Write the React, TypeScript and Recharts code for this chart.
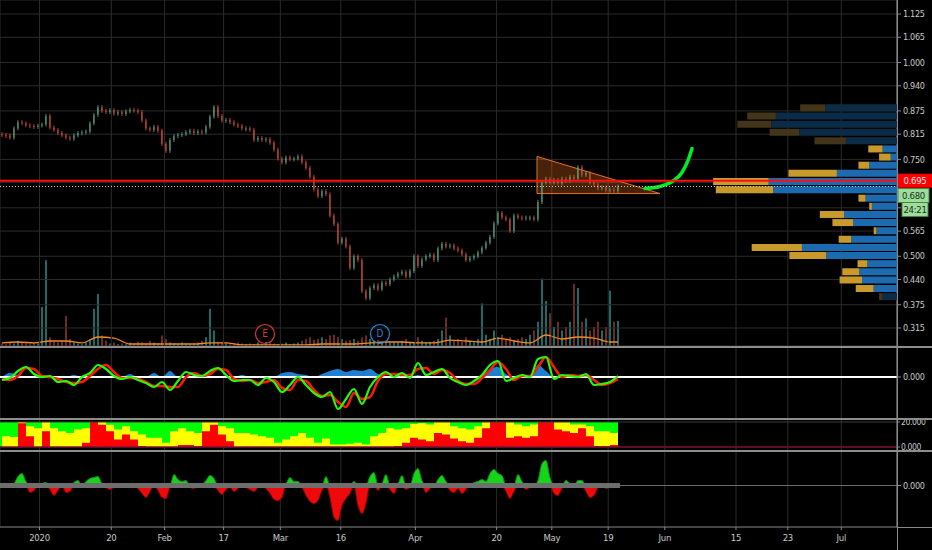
import React from "react";
import {
  ComposedChart,
  BarChart,
  Bar,
  Line,
  Area,
  XAxis,
  YAxis,
  CartesianGrid,
  ReferenceLine,
  ReferenceArea,
  ReferenceDot,
  Cell,
} from "recharts";

const FONT = "'Liberation Sans Narrow', 'DejaVu Sans Condensed', 'Liberation Sans', sans-serif";
const AXIS_TXT = "#c9c9c9";
const AXIS_LINE = "#8a8a8a";
const GRID = "#2b2b2b";
const UP = "#62b08f";
const DOWN = "#e2553f";

// x axis is counted in bar slots (4px each on screen)
const X_MAX = 224.25;
const P_MIN = 0.2685;
const P_MAX = 1.1612;

const dateTicks = [9.875, 27.83, 41.15, 55.9, 70.08, 85.2, 103.83, 124.15, 137.95, 152.05, 166.2, 184, 196.95, 210.33];
const dateLabels = ["2020", "20", "Feb", "17", "Mar", "16", "Apr", "20", "May", "19", "Jun", "15", "23", "Jul"];
const priceTicks = [1.125, 1.065, 1.0, 0.94, 0.875, 0.815, 0.75, 0.69, 0.625, 0.565, 0.5, 0.44, 0.375, 0.315];
// these two sit under the price tags
const hiddenPriceTicks = [0.69, 0.625];

const closes = [
  0.813, 0.812, 0.806, 0.83, 0.846, 0.843, 0.838, 0.836, 0.834, 0.837,
  0.84, 0.862, 0.832, 0.826, 0.818, 0.812, 0.806, 0.803, 0.812, 0.818,
  0.82, 0.822, 0.843, 0.865, 0.885, 0.875, 0.872, 0.877, 0.868, 0.872,
  0.867, 0.874, 0.878, 0.876, 0.872, 0.85, 0.83, 0.826, 0.834, 0.824,
  0.79, 0.772, 0.8, 0.81, 0.813, 0.815, 0.82, 0.824, 0.818, 0.822,
  0.82, 0.834, 0.86, 0.885, 0.862, 0.85, 0.852, 0.846, 0.84, 0.836,
  0.83, 0.83, 0.826, 0.8, 0.805, 0.8, 0.802, 0.793, 0.775, 0.752,
  0.742, 0.755, 0.75, 0.752, 0.758, 0.742, 0.728, 0.705, 0.672, 0.655,
  0.668, 0.66, 0.605, 0.583, 0.535, 0.545, 0.525, 0.47, 0.5, 0.49,
  0.41, 0.392, 0.418, 0.425, 0.415, 0.432, 0.428, 0.44, 0.448, 0.455,
  0.46, 0.448, 0.462, 0.5, 0.475, 0.492, 0.5, 0.504, 0.49, 0.52,
  0.532, 0.525, 0.528, 0.52, 0.515, 0.505, 0.49, 0.495, 0.5, 0.51,
  0.522, 0.535, 0.55, 0.585, 0.612, 0.6, 0.595, 0.565, 0.605, 0.6,
  0.598, 0.6, 0.6, 0.595, 0.64, 0.69, 0.7, 0.69, 0.697, 0.688,
  0.7, 0.695, 0.705, 0.7, 0.73, 0.71, 0.715, 0.69, 0.685, 0.675,
  0.678, 0.67, 0.672, 0.668, 0.68,
];
const firstOpen = 0.815;

// volume, millions
const volumes = [
  0.03, 0.02, 0.04, 0.03, 0.06, 0.04, 0.03, 0.02, 0.04, 0.03,
  0.45, 0.99, 0.1, 0.05, 0.04, 0.06, 0.35, 0.08, 0.04, 0.03,
  0.02, 0.04, 0.08, 0.43, 0.6, 0.12, 0.06, 0.03, 0.04, 0.02,
  0.03, 0.02, 0.04, 0.03, 0.05, 0.04, 0.03, 0.06, 0.04, 0.03,
  0.12, 0.08, 0.04, 0.03, 0.02, 0.04, 0.03, 0.02, 0.03, 0.04,
  0.06, 0.1, 0.43, 0.18, 0.05, 0.04, 0.03, 0.02, 0.03, 0.04,
  0.03, 0.02, 0.03, 0.02, 0.04, 0.03, 0.05, 0.04, 0.03, 0.02,
  0.03, 0.04, 0.02, 0.03, 0.04, 0.06, 0.08, 0.1, 0.07, 0.08,
  0.1, 0.08, 0.12, 0.13, 0.1, 0.08, 0.06, 0.07, 0.08, 0.06,
  0.1, 0.12, 0.08, 0.06, 0.07, 0.05, 0.06, 0.04, 0.05, 0.04,
  0.06, 0.08, 0.05, 0.04, 0.1, 0.06, 0.04, 0.05, 0.06, 0.08,
  0.18, 0.33, 0.12, 0.06, 0.08, 0.05, 0.1, 0.06, 0.04, 0.08,
  0.49, 0.13, 0.08, 0.18, 0.1, 0.13, 0.08, 0.1, 0.06, 0.08,
  0.1, 0.08, 0.13, 0.18, 0.28, 0.78, 0.52, 0.38, 0.22, 0.28,
  0.18, 0.22, 0.28, 0.72, 0.67, 0.28, 0.32, 0.18, 0.22, 0.28,
  0.18, 0.22, 0.64, 0.28, 0.29,
];
// volume average, one value every 4 bars
const volAvg = [
  0.035, 0.046, 0.035, 0.058, 0.058, 0.035, 0.104, 0.092, 0.023, 0.023,
  0.023, 0.023, 0.023, 0.035, 0.035, 0.012, 0.012, 0.012, 0.012, 0.012,
  0.023, 0.023, 0.023, 0.035, 0.046, 0.046, 0.035, 0.035, 0.069, 0.058,
  0.046, 0.092, 0.058, 0.035, 0.127, 0.081, 0.104, 0.092, 0.046, 0.046,
];

// visible range volume profile
const vpPrices = [0.884, 0.863, 0.842, 0.821, 0.799, 0.778, 0.757, 0.736, 0.715, 0.694, 0.673, 0.651, 0.63, 0.609, 0.588, 0.567, 0.545, 0.524, 0.503, 0.482, 0.461, 0.44, 0.418, 0.397];
const vpUp = [8.0, 13.5, 14.0, 10.9, 5.7, 1.6, 0.7, 3.1, 6.7, 14.3, 13.8, 3.5, 2.8, 5.9, 4.9, 2.3, 5.1, 10.6, 7.9, 3.3, 4.2, 3.9, 2.6, 1.6];
const vpDown = [2.8, 3.2, 3.8, 3.3, 3.5, 1.6, 1.3, 1.2, 5.4, 6.2, 6.4, 0.8, 0.3, 2.7, 2.3, 0.3, 1.4, 5.6, 4.1, 1.1, 1.9, 2.5, 2.0, 0.4];
const vpInValueArea = [false, false, false, false, false, true, true, true, true, true, true, true, true, true, true, true, true, true, true, true, true, true, true, false];

// drawings
const triangle = [
  { x: 134.25, tri: [0.6618, 0.7575] },
  { x: 165, tri: [0.6618, 0.6618] },
];
const arrow = [
  { x: 161.25, p: 0.6747 },
  { x: 165, p: 0.6799 },
  { x: 168, p: 0.6928 },
  { x: 170.5, p: 0.7161 },
  { x: 172, p: 0.7472 },
  { x: 173, p: 0.7782 },
];
const events = [
  { x: 66.25, letter: "E", color: "#d03a2c" },
  { x: 95, letter: "D", color: "#2a86d8" },
];

// oscillator panel (x 1e-3), one value every 2 bars
const oscFast = [
  -3, -1, 6, 10, 3, 0, 1, -5, -4, -8, 0, 4, 12, 8, 1, -2, 0, -3, -6, -10,
  -5, -13, -4, 5, 2, 1, 6, 9, 2, -4, -3, -3, -8, -1, -5, -15, -8, 0, -8, -16,
  -20, -15, -32, -22, -12, -27, -10, 0, 5, 0, 4, -1, 14, 2, 5, 8, -1, -5, -8, -4,
  2, 12, 16, -4, -1, 2, 0, 18, 20, -2, 2, 1, 0, 3, -8, -7, -5, 1,
];
const oscSlow = [
  -2, -3, 1, 9, 8, 1, 0, -2, -5, -6, -5, 1, 8, 12, 5, -1, -1, -2, -5, -9,
  -9, -10, -10, 0, 4, 1, 3, 8, 7, -2, -4, -3, -6, -5, -3, -11, -13, -3, -4, -13,
  -19, -18, -25, -30, -16, -22, -20, -4, 3, 3, 2, 2, 8, 9, 3, 7, 4, -4, -7, -7,
  -1, 7, 15, 8, -3, 1, 1, 10, 20, 10, 0, 2, 1, 2, -3, -8, -6, -2,
];
const oscHist = [
  0, 4, 2, 0, 0, 0, 0, 0, 0, 2, 0, 0, 0, 0, 0, 0, 3, 0, 0, 4,
  0, 6, 0, 0, 0, 0, 0, 0, 0, 0, 2, 0, 0, 0, 0, 4, 5, 3, 2, 0,
  3, 6, 8, 5, 7, 6, 8, 3, 0, 0, 0, 0, 2, 0, 0, 0, 0, 0, 0, 0,
  0, 8, 10, 3, 0, 0, 0, 12, 6, 0, 0, 0, 0, 0, 0, 0, 0, 0,
];

// trend strength panel (0-20), one value every 2 bars
const trendYellow = [
  8.7, 8, 20, 16.6, 15, 20, 15, 12.6, 11.3, 14, 15, 20, 20, 17.9, 14, 16.6, 12.6, 10, 7.4, 7.4,
  3.4, 12.6, 15, 12.6, 11.3, 20, 20, 16.6, 15, 11.3, 11.3, 10, 8.7, 7.4, 3.4, 6, 8.7, 11.3, 7.4,
  3.4, 6.8, 2, 2, 2.6, 3.4, 2, 8.7, 11.3, 15, 14, 15, 18.4, 19, 18, 20, 20, 16.6, 15, 14,
  16.6, 20, 20, 20, 20, 18, 16.6, 18, 20, 20, 20, 20, 18, 18, 16.6, 12.6, 12.6, 11.3, 11.3,
];
const trendRed = [
  0, 0, 19, 8.7, 0, 12.6, 0, 0, 0, 0, 3.4, 20, 17.9, 12.6, 6, 10, 6, 0.8, 0, 0,
  0, 0, 1.6, 1.6, 0.8, 12.6, 17.9, 10, 4.7, 0, 0, 0, 0, 0, 0, 0, 0, 0, 0,
  0, 0, 0, 0, 0, 0, 0, 0, 0, 0, 0.8, 3.4, 7.4, 6, 4.7, 11.3, 10, 6.8, 4.7, 3.4,
  7.4, 15, 20, 20, 7.4, 8.7, 7.4, 8.7, 20, 20, 14, 12.6, 11.3, 15, 8.7, 0.8, 0.8, 1.6, 1.6,
];

// momentum histogram (x 1e-3), one value per bar
const momentum = [
  0, 0, 0, 2, 9, 12, 4, -7, -5, 0,
  2, 3, -4, -10, -5, 0, -7, -6, 3, 5,
  0, 4, 7, 8, 9, 2, -2, -4, -2, 0,
  2, 2, 0, 0, -3, -8, -12, -6, 0, -5,
  -12, -13, -2, 11, 6, 4, 5, -2, -3, 0,
  1, 5, 10, 7, -5, -9, -4, -2, -6, -3,
  0, -2, -4, -6, -2, 0, -3, -8, -14, -15,
  -12, 2, 8, 4, 4, -2, -10, -16, -18, -15,
  -5, 9, -12, -32, -35, -20, -13, -8, 4, -20,
  -28, -18, 9, 13, -5, 2, 11, -4, -8, 2,
  10, -4, -2, 12, 17, 5, -7, -3, 0, 6,
  10, 4, -5, -7, -3, -8, -4, 0, 3, 4,
  6, 4, 12, 16, 12, 10, -6, -13, -6, 11,
  4, -4, -2, 0, 5, 22, 25, 8, -8, -10,
  -3, 5, 2, 0, 5, 5, -6, -12, -10, -2,
  0, -3, -2, 0, 1,
];

const candles = closes.map((c, i) => ({
  x: i + 0.5,
  open: i === 0 ? firstOpen : closes[i - 1],
  close: c,
  vol: volumes[i],
}));
const volAvgData = volAvg.map((v, k) => ({ x: Math.min(4 * k, 154) + 0.5, ma: v }));
const profile = vpPrices.map((p, i) => ({ price: p, up: vpUp[i], down: vpDown[i], va: vpInValueArea[i] }));
const oscData = oscFast.map((v, k) => ({ x: 2 * k + 0.5, fast: v, slow: oscSlow[k], hist: oscHist[k] }));
const trendData = trendYellow.map((v, k) => ({ x: 2 * k + 0.5, yellow: v, red: trendRed[k] }));
const momData = momentum.map((v, i) => ({ x: i + 0.5, m: v }));

const tickStyle = { fill: AXIS_TXT, fontSize: 9, fontFamily: FONT, letterSpacing: -0.3 };

function Candle(props: any) {
  const { x, y, width, height, payload } = props;
  if (x == null || y == null) return null;
  const color = payload.close >= payload.open ? UP : DOWN;
  const h = Math.max(height, 1);
  const cx = x + width / 2;
  return (
    <g>
      <line x1={cx} x2={cx} y1={y - 2} y2={y + h + 2} stroke={color} strokeWidth={0.8} />
      <rect x={x} y={y} width={width} height={h} fill={color} />
    </g>
  );
}

function Tag({ x, y, w, text, bg, fg, border }: any) {
  return (
    <g>
      <rect x={x} y={y - 7} width={w} height={14} fill={bg} stroke={border || "none"} />
      <text x={x + w / 2} y={y + 3.5} textAnchor="middle" fill={fg} fontSize={9.5} fontFamily={FONT} letterSpacing={-0.3}>
        {text}
      </text>
    </g>
  );
}

function LastPriceTag(props: any) {
  const vb = props.viewBox;
  if (!vb) return null;
  const right = vb.x + vb.width;
  return <Tag x={right + 1} y={vb.y} w={34} text="0.695" bg="#ff0000" fg="#ffe6e6" />;
}

function ClosePriceTag(props: any) {
  const vb = props.viewBox;
  if (!vb) return null;
  const right = vb.x + vb.width;
  return (
    <g>
      <Tag x={right + 1} y={vb.y + 9} w={31} text="0.680" bg="#9fdc9c" fg="#123312" border="#3f8a3f" />
      <Tag x={right + 5} y={vb.y + 23} w={26} text="24:21" bg="#9fdc9c" fg="#123312" border="#3f8a3f" />
    </g>
  );
}

function eventShape(letter: string, color: string) {
  return (p: any) => (
    <g>
      <circle cx={p.cx} cy={p.cy} r={9.5} fill="none" stroke={color} strokeWidth={1.2} />
      <text x={p.cx} y={p.cy + 3.5} textAnchor="middle" fill={color} fontSize={10} fontFamily={FONT}>
        {letter}
      </text>
    </g>
  );
}

const sep = (top: number): React.CSSProperties => ({
  position: "absolute",
  left: 0,
  top,
  width: 932,
  height: 2,
  background: "#8d8d8d",
});

export default function App() {
  return (
    <div style={{ position: "absolute", left: 0, top: 0, width: 932, height: 550, background: "#000", overflow: "hidden" }}>
      {/* volume layer */}
      <div style={{ position: "absolute", left: 0, top: 0 }}>
        <ComposedChart width={932} height={346} data={candles} margin={{ top: 0, right: 35, bottom: 0, left: 0 }}>
          <XAxis dataKey="x" type="number" domain={[0, X_MAX]} hide />
          <YAxis domain={[0, 4]} hide />
          <Bar dataKey="vol" barSize={2} isAnimationActive={false}>
            {candles.map((c, i) => (
              <Cell key={i} fill={c.close >= c.open ? "#1d6a66" : "#6d2a26"} />
            ))}
          </Bar>
          <Line data={volAvgData} dataKey="ma" type="monotone" stroke="#f08a24" strokeWidth={1.3} dot={false} isAnimationActive={false} />
        </ComposedChart>
      </div>

      {/* price layer */}
      <div style={{ position: "absolute", left: 0, top: 0 }}>
        <ComposedChart width={932} height={346} data={candles} margin={{ top: 0, right: 0, bottom: 0, left: 0 }}>
          <CartesianGrid stroke={GRID} />
          <XAxis dataKey="x" type="number" domain={[0, X_MAX]} ticks={dateTicks} hide />
          <YAxis
            orientation="right"
            width={35}
            type="number"
            domain={[P_MIN, P_MAX]}
            ticks={priceTicks}
            interval={0}
            tickFormatter={(v: number) => (hiddenPriceTicks.includes(v) ? "" : v.toFixed(3))}
            tick={tickStyle}
            tickSize={4}
            tickLine={{ stroke: AXIS_LINE }}
            axisLine={{ stroke: AXIS_LINE }}
          />
          <Area
            data={triangle}
            dataKey="tri"
            type="linear"
            stroke="#e8701e"
            strokeWidth={1}
            fill="#ff7a20"
            fillOpacity={0.28}
            isAnimationActive={false}
          />
          <ReferenceLine
            segment={[
              { x: 134.25, y: 0.6618 },
              { x: 134.25, y: 0.7575 },
            ]}
            stroke="#e8701e"
          />
          <Bar dataKey={(d: any) => [Math.min(d.open, d.close), Math.max(d.open, d.close)]} barSize={2} shape={Candle} isAnimationActive={false} />
          <Line
            data={arrow}
            dataKey="p"
            type="monotone"
            stroke="#00ee22"
            strokeWidth={3.5}
            strokeLinecap="round"
            dot={false}
            isAnimationActive={false}
          />
          {events.map((e) => (
            <ReferenceDot key={e.letter} x={e.x} y={0.2995} r={9} shape={eventShape(e.letter, e.color)} />
          ))}
        </ComposedChart>
      </div>

      {/* volume profile + price lines */}
      <div style={{ position: "absolute", left: 0, top: 0 }}>
        <BarChart layout="vertical" width={932} height={346} data={profile} margin={{ top: 0, right: 35, bottom: 0, left: 0 }}>
          <XAxis type="number" domain={[0, 100]} reversed hide />
          <YAxis type="number" dataKey="price" domain={[P_MIN, P_MAX]} reversed hide />
          <Bar dataKey="up" stackId="vp" barSize={7} isAnimationActive={false}>
            {profile.map((r, i) => (
              <Cell key={i} fill={r.va ? "#1c6bb0" : "#0c2b47"} />
            ))}
          </Bar>
          <Bar dataKey="down" stackId="vp" barSize={7} isAnimationActive={false}>
            {profile.map((r, i) => (
              <Cell key={i} fill={r.va ? "#c89a2c" : "#43351a"} />
            ))}
          </Bar>
          <ReferenceLine y={0.68} stroke="#c8c8c8" strokeDasharray="1 2" label={<ClosePriceTag />} />
          <ReferenceLine y={0.695} stroke="#ff1010" strokeWidth={2} label={<LastPriceTag />} />
        </BarChart>
      </div>

      {/* oscillator panel */}
      <div style={{ position: "absolute", left: 0, top: 347 }}>
        <ComposedChart width={932} height={71} data={oscData} margin={{ top: 0, right: 0, bottom: 0, left: 0 }}>
          <CartesianGrid stroke={GRID} horizontal={false} />
          <XAxis dataKey="x" type="number" domain={[0, X_MAX]} ticks={dateTicks} hide />
          <YAxis
            orientation="right"
            width={35}
            type="number"
            domain={[-41, 30]}
            ticks={[0]}
            tickFormatter={() => "0.000"}
            tick={tickStyle}
            tickSize={4}
            tickLine={{ stroke: AXIS_LINE }}
            axisLine={{ stroke: AXIS_LINE }}
          />
          <Area dataKey="hist" type="monotone" stroke="none" fill="#1f7fd0" fillOpacity={1} baseValue={0} isAnimationActive={false} />
          <ReferenceLine y={0} stroke="#ffffff" strokeWidth={2} />
          <Line dataKey="slow" type="monotone" stroke="#ff1a00" strokeWidth={2.6} dot={false} isAnimationActive={false} />
          <Line dataKey="fast" type="monotone" stroke="#22ff00" strokeWidth={2.2} dot={false} isAnimationActive={false} />
        </ComposedChart>
      </div>

      {/* trend strength panel (plot area 419-450, extra room for its labels) */}
      <div style={{ position: "absolute", left: 0, top: 413 }}>
        <ComposedChart width={932} height={43} data={trendData} margin={{ top: 6, right: 0, bottom: 6, left: 0 }}>
          <CartesianGrid stroke={GRID} horizontal={false} />
          <XAxis dataKey="x" type="number" domain={[0, X_MAX]} ticks={dateTicks} hide />
          <YAxis
            orientation="right"
            width={35}
            type="number"
            domain={[-2.4, 22.4]}
            ticks={[0, 20]}
            interval={0}
            tickFormatter={(v: number) => v.toFixed(3)}
            tick={{ ...tickStyle, fontSize: 8.5, letterSpacing: -0.4 }}
            tickSize={3}
            tickMargin={1}
            tickLine={{ stroke: AXIS_LINE }}
            axisLine={{ stroke: AXIS_LINE }}
          />
          <ReferenceLine y={20} stroke="#3a3a3a" />
          <ReferenceArea x1={0} x2={154.5} y1={0} y2={20} fill="#00ff00" fillOpacity={1} stroke="none" />
          <Area dataKey="yellow" type="stepAfter" stroke="none" fill="#ffff00" fillOpacity={1} baseValue={0} isAnimationActive={false} />
          <Area dataKey="red" type="stepAfter" stroke="none" fill="#ff0000" fillOpacity={1} baseValue={0} isAnimationActive={false} />
          <ReferenceLine y={0} stroke="#7a1238" strokeWidth={1.5} />
        </ComposedChart>
      </div>

      {/* momentum panel + time axis */}
      <div style={{ position: "absolute", left: 0, top: 451 }}>
        <ComposedChart width={932} height={99} data={momData} margin={{ top: 0, right: 0, bottom: 0, left: 0 }}>
          <CartesianGrid stroke={GRID} horizontal={false} />
          <XAxis
            dataKey="x"
            type="number"
            domain={[0, X_MAX]}
            ticks={dateTicks}
            interval={0}
            tickFormatter={(_v: number, i: number) => dateLabels[i]}
            tick={{ ...tickStyle, fontSize: 9.5 }}
            tickSize={3}
            tickMargin={4}
            height={23}
            tickLine={{ stroke: AXIS_LINE }}
            axisLine={{ stroke: AXIS_LINE }}
          />
          <YAxis
            orientation="right"
            width={35}
            type="number"
            domain={[-41.5, 34.5]}
            ticks={[0]}
            tickFormatter={() => "0.000"}
            tick={tickStyle}
            tickSize={4}
            tickLine={{ stroke: AXIS_LINE }}
            axisLine={{ stroke: AXIS_LINE }}
          />
          <ReferenceLine y={0} stroke="#6a6a6a" />
          <Area
            dataKey={(d: any) => Math.max(d.m, 0)}
            type="monotone"
            stroke="#0e8f12"
            fill="#16d41a"
            fillOpacity={1}
            baseValue={0}
            isAnimationActive={false}
          />
          <Area
            dataKey={(d: any) => Math.min(d.m, 0)}
            type="monotone"
            stroke="#9a0000"
            fill="#ee0a0a"
            fillOpacity={1}
            baseValue={0}
            isAnimationActive={false}
          />
          <ReferenceLine
            segment={[
              { x: 0, y: 0 },
              { x: 155, y: 0 },
            ]}
            stroke="#6e6e6e"
            strokeWidth={5}
          />
        </ComposedChart>
      </div>

      <div style={sep(346)} />
      <div style={sep(418)} />
      <div style={sep(450)} />
      <div style={{ position: "absolute", left: 897, top: 527, width: 35, height: 1, background: AXIS_LINE }} />
      <div style={{ position: "absolute", left: 897, top: 0, width: 1, height: 550, background: AXIS_LINE }} />
    </div>
  );
}
